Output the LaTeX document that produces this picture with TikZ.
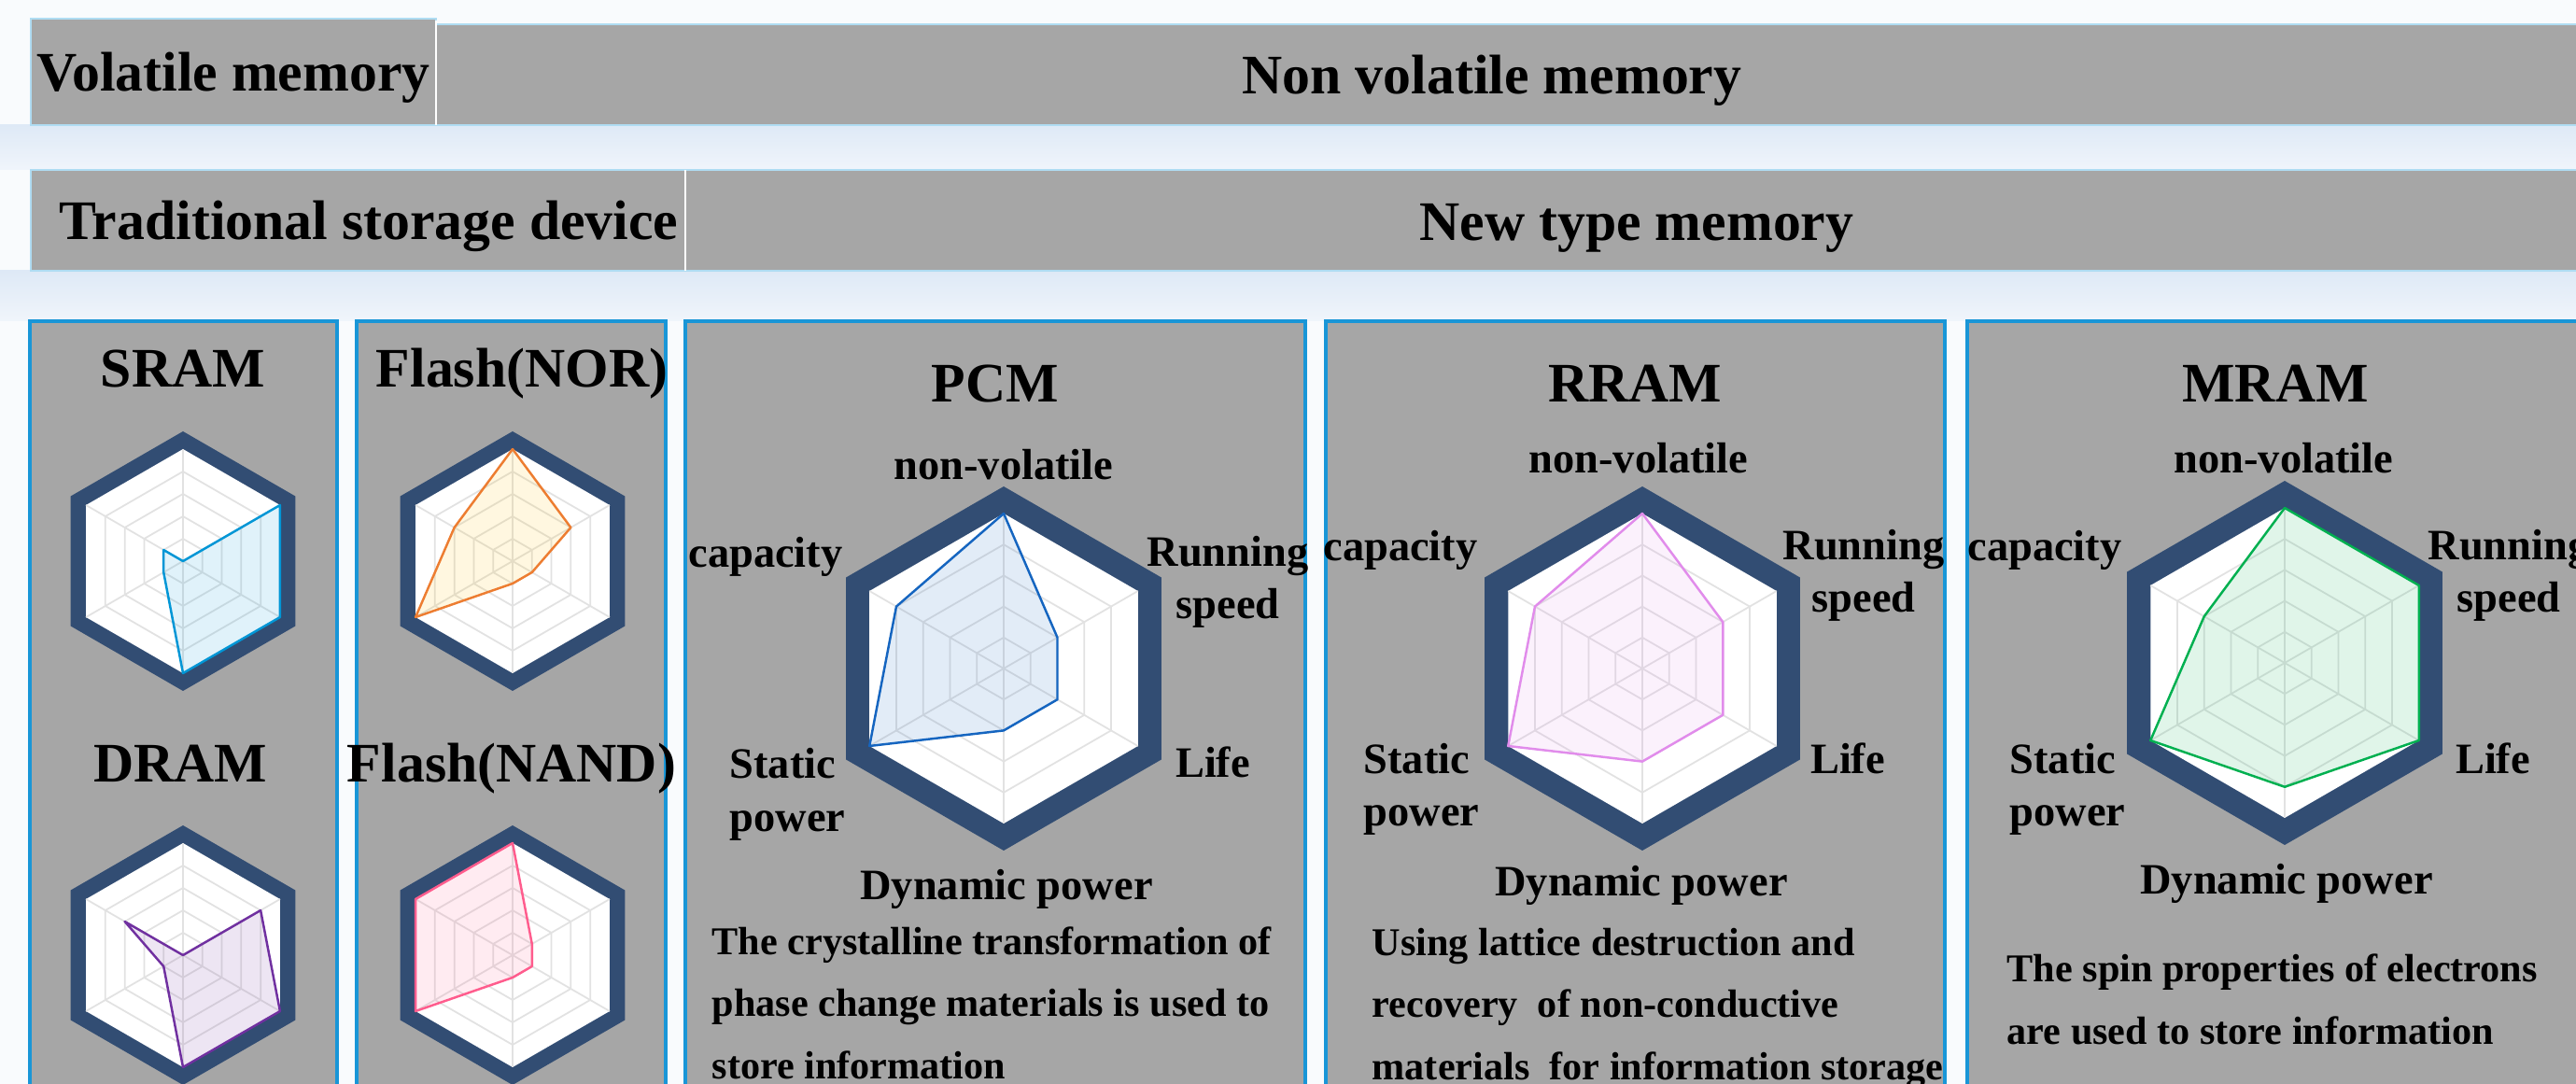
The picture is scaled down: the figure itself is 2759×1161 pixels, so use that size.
\documentclass[tikz,border=0pt]{standalone}
\usepackage{fontspec}
\setmainfont{Liberation Serif}
\usetikzlibrary{positioning}

\definecolor{boxgray}{RGB}{166,166,166}
\definecolor{hexnavy}{RGB}{50,77,115}
\definecolor{gridgray}{RGB}{226,226,226}
\definecolor{panelblue}{RGB}{25,150,215}
\definecolor{barline}{RGB}{175,220,242}
\definecolor{glowtop}{RGB}{222,233,246}
\definecolor{glowbot}{RGB}{240,245,251}
\definecolor{sramline}{RGB}{0,150,214}
\definecolor{dramline}{RGB}{112,48,160}
\definecolor{norline}{RGB}{237,125,49}
\definecolor{norfill}{RGB}{255,192,0}
\definecolor{nandline}{RGB}{255,92,141}
\definecolor{pcmline}{RGB}{21,101,192}
\definecolor{rramline}{RGB}{225,140,235}
\definecolor{mramline}{RGB}{0,176,80}

% radar chart: centre, white radius, outer radius, six values, data style
\newcommand{\radarchart}[5]{%
  \begin{scope}[shift={#1}, yscale=-1]
    \fill[hexnavy] (90:#3) -- (30:#3) -- (-30:#3) -- (-90:#3) -- (-150:#3) -- (150:#3) -- cycle;
    \fill[white] (90:#2) -- (30:#2) -- (-30:#2) -- (-90:#2) -- (-150:#2) -- (150:#2) -- cycle;
    \foreach \k in {1,...,4}
      \draw[gridline] (90:{\k*#2/5}) -- (30:{\k*#2/5}) -- (-30:{\k*#2/5}) -- (-90:{\k*#2/5}) -- (-150:{\k*#2/5}) -- (150:{\k*#2/5}) -- cycle;
    \foreach \a in {90,30,-30,-90,-150,150}
      \draw[gridline] (0,0) -- (\a:#2);
    \foreach \v [count=\i] in {#4}
      \coordinate (d\i) at ({150-60*\i}:{\v*#2});
    \draw[#5] (d1) -- (d2) -- (d3) -- (d4) -- (d5) -- (d6) -- cycle;
  \end{scope}}

\begin{document}
\begin{tikzpicture}[x=0.01cm, y=-0.01cm,
  headtext/.style={font=\fontsize{17}{20}\selectfont\bfseries, anchor=base, inner sep=0pt},
  axistext/.style={font=\fontsize{13.2}{16}\selectfont\bfseries, anchor=base, inner sep=0pt, align=center},
  sidetext/.style={axistext, anchor=base west, align=left},
  desctext/.style={font=\fontsize{12}{18.8}\selectfont\bfseries, anchor=base west, inner sep=0pt, align=left},
  headbar/.style={fill=boxgray, draw=barline, line width=0.6pt},
  panel/.style={fill=boxgray, draw=panelblue, line width=0.9pt},
  gridline/.style={draw=gridgray, line width=0.5pt},
  datapoly/.style={draw=#1, fill=#1, fill opacity=0.12, line width=0.7pt, line join=round},
  sramdata/.style={datapoly=sramline},
  dramdata/.style={datapoly=dramline},
  nordata/.style={draw=norline, fill=norfill, fill opacity=0.12, line width=0.7pt, line join=round},
  nanddata/.style={datapoly=nandline},
  pcmdata/.style={datapoly=pcmline},
  rramdata/.style={datapoly=rramline},
  mramdata/.style={datapoly=mramline}
]
\useasboundingbox (0,0) rectangle (2759,1161);
\clip (0,0) rectangle (2759,1161);

% background glow
\fill[glowbot!40] (0,0) rectangle (2759,1161);
\shade[top color=glowtop, bottom color=glowbot] (0,134) rectangle (2759,182);
\shade[top color=glowtop, bottom color=glowbot] (0,290) rectangle (2759,344);

% header bars
\draw[headbar] (33,20) rectangle (467,134);
\draw[headbar] (467,26) rectangle (2790,134);
\draw[white, line width=0.6pt] (467,22) -- (467,134);
\draw[headbar] (33,182) rectangle (734,290);
\draw[headbar] (734,182) rectangle (2790,290);
\draw[white, line width=0.6pt] (734,182) -- (734,290);

\node[headtext] (volatile) at (250,98) {Volatile memory};
\node[headtext] (nonvolatile) at (1598,101) {Non volatile memory};
\node[headtext] (traditional) at (395,257) {Traditional storage device};
\node[headtext] (newtype) at (1753,258) {New type memory};

% panels
\draw[panel] (32,344) rectangle (361,1190);
\draw[panel] (382,344) rectangle (713,1190);
\draw[panel] (734,344) rectangle (1398,1190);
\draw[panel] (1420,344) rectangle (2083,1190);
\draw[panel] (2107,344) rectangle (2790,1190);

% traditional devices
\node[headtext] (sram) at (196,415) {SRAM};
\node[headtext] (nor) at (559,415) {Flash(NOR)};
\node[headtext] (dram) at (193,838) {DRAM};
\node[headtext] (nand) at (548,838) {Flash(NAND)};

\radarchart{(196,601)}{120}{139}{0,1,1,1,0.2,0.2}{sramdata}
\radarchart{(549,601)}{120}{139}{1,0.6,0.2,0.2,1,0.6}{nordata}
\radarchart{(196,1023)}{120}{139}{0,0.8,1,1,0.2,0.6}{dramdata}
\radarchart{(549,1023)}{120}{139}{1,0.2,0.2,0.2,1,1}{nanddata}

% PCM (multi-line texts sit on the baseline of their last line)
\node[headtext] (pcm) at (1066,431) {PCM};
\radarchart{(1075,716)}{166}{195}{1,0.4,0.4,0.4,1,0.8}{pcmdata}
\node[axistext] (pcmnv) at (1075,514) {non-volatile};
\node[axistext] (pcmrs) at (1315,663) {Running\\speed};
\node[axistext] (pcmcap) at (820,608) {capacity};
\node[axistext] (pcmlife) at (1299,833) {Life};
\node[sidetext] (pcmsp) at (781,890) {Static\\power};
\node[axistext] (pcmdp) at (1078,964) {Dynamic power};
\node[desctext] (pcmtext) at (762,1155) {The crystalline transformation of\\phase change materials is used to\\store information};

% RRAM
\node[headtext] (rram) at (1751,431) {RRAM};
\radarchart{(1759,716)}{166}{195}{1,0.6,0.6,0.6,1,0.8}{rramdata}
\node[axistext] (rramnv) at (1755,507) {non-volatile};
\node[axistext] (rramrs) at (1996,656) {Running\\speed};
\node[axistext] (rramcap) at (1500,601) {capacity};
\node[axistext] (rramlife) at (1979,828) {Life};
\node[sidetext] (rramsp) at (1460,885) {Static\\power};
\node[axistext] (rramdp) at (1758,959) {Dynamic power};
\node[desctext] (rramtext) at (1469,1156) {Using lattice destruction and\\recovery~ of non-conductive\\materials~ for information storage};

% MRAM
\node[headtext] (mram) at (2437,431) {MRAM};
\radarchart{(2447,710)}{166}{195}{1,1,1,0.8,1,0.6}{mramdata}
\node[axistext] (mramnv) at (2446,507) {non-volatile};
\node[axistext] (mramrs) at (2687,656) {Running\\speed};
\node[axistext] (mramcap) at (2190,601) {capacity};
\node[axistext] (mramlife) at (2670,828) {Life};
\node[sidetext] (mramsp) at (2152,885) {Static\\power};
\node[axistext] (mramdp) at (2449,957) {Dynamic power};
\node[desctext] (mramtext) at (2149,1118) {The spin properties of electrons\\are used to store information};

\end{tikzpicture}
\end{document}
